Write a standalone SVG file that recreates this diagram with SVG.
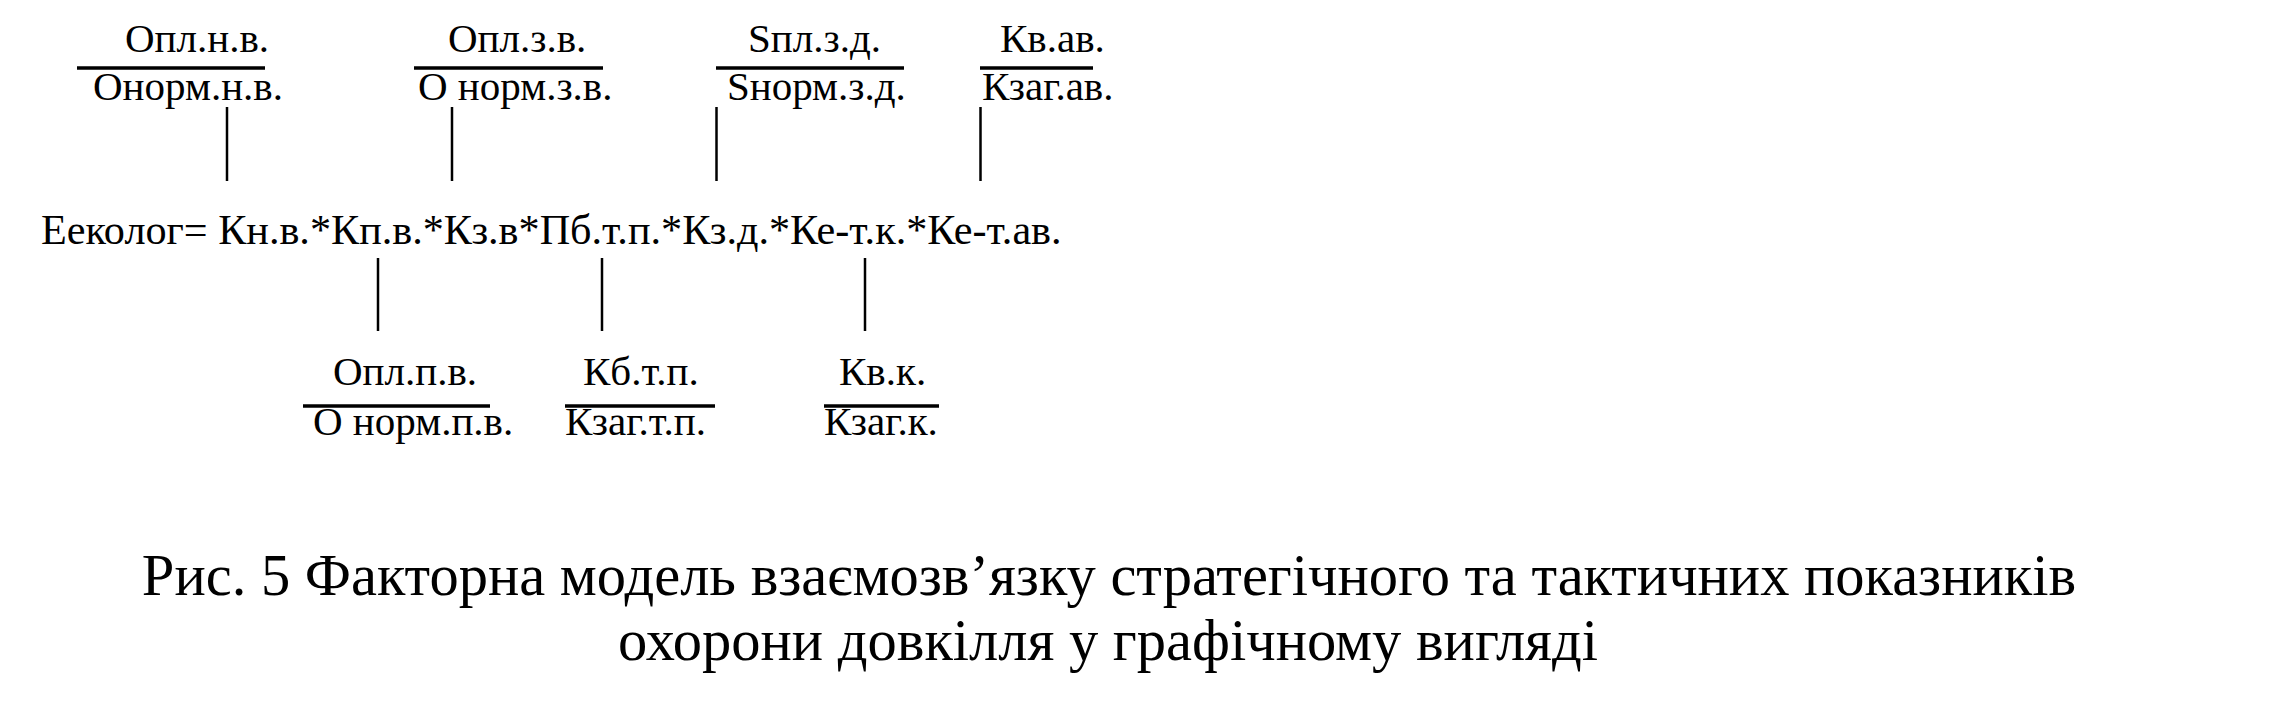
<svg xmlns="http://www.w3.org/2000/svg" width="2296" height="726" viewBox="0 0 2296 726">
<style>
text{font-family:"Liberation Serif","Times New Roman","DejaVu Serif",serif;fill:#000}
.t{font-size:41px}
.fm{font-size:42.2px}
.cap{font-size:58.5px;text-anchor:middle}
.bar{stroke:#000;stroke-width:3.5}
.con{stroke:#000;stroke-width:2.5}
</style>
<rect width="2296" height="726" fill="#fff"/>
<g id="f_nv">
<text class="t" x="125" y="52">Опл.н.в.</text>
<line class="bar" x1="77" y1="68" x2="265" y2="68"/>
<text class="t" x="93" y="100">Онорм.н.в.</text>
</g>
<g id="f_zv">
<text class="t" x="448" y="52">Опл.з.в.</text>
<line class="bar" x1="414" y1="68" x2="603" y2="68"/>
<text class="t" x="418" y="100">О норм.з.в.</text>
</g>
<g id="f_zd">
<text class="t" x="748" y="52">Sпл.з.д.</text>
<line class="bar" x1="716" y1="68" x2="904" y2="68"/>
<text class="t" x="727" y="100">Sнорм.з.д.</text>
</g>
<g id="f_av">
<text class="t" x="1000" y="52">Кв.ав.</text>
<line class="bar" x1="980" y1="68" x2="1093" y2="68"/>
<text class="t" x="982" y="100">Кзаг.ав.</text>
</g>
<g id="formula">
<text class="fm" x="41" y="244">Ееколог= Кн.в.*Кп.в.*Кз.в*Пб.т.п.*Кз.д.*Ке-т.к.*Ке-т.ав.</text>
</g>
<g id="f_pv">
<text class="t" x="333" y="385">Опл.п.в.</text>
<line class="bar" x1="303" y1="406" x2="490" y2="406"/>
<text class="t" x="313" y="435">О норм.п.в.</text>
</g>
<g id="f_tp">
<text class="t" x="583" y="385">Кб.т.п.</text>
<line class="bar" x1="565" y1="406" x2="715" y2="406"/>
<text class="t" x="565" y="435">Кзаг.т.п.</text>
</g>
<g id="f_vk">
<text class="t" x="839" y="385">Кв.к.</text>
<line class="bar" x1="824" y1="406" x2="939" y2="406"/>
<text class="t" x="824" y="435">Кзаг.к.</text>
</g>
<g id="connectors">
<line class="con" x1="227" y1="107" x2="227" y2="181"/>
<line class="con" x1="452" y1="107" x2="452" y2="181"/>
<line class="con" x1="716.5" y1="107" x2="716.5" y2="181"/>
<line class="con" x1="980.5" y1="107" x2="980.5" y2="181"/>
<line class="con" x1="378" y1="258" x2="378" y2="331"/>
<line class="con" x1="602" y1="258" x2="602" y2="331"/>
<line class="con" x1="865" y1="258" x2="865" y2="331"/>
</g>
<g id="caption">
<text class="cap" x="1109" y="595">Рис. 5 Факторна модель взаємозв’язку стратегічного та тактичних показників</text>
<text class="cap" x="1108" y="660">охорони довкілля у графічному вигляді</text>
</g>
</svg>
